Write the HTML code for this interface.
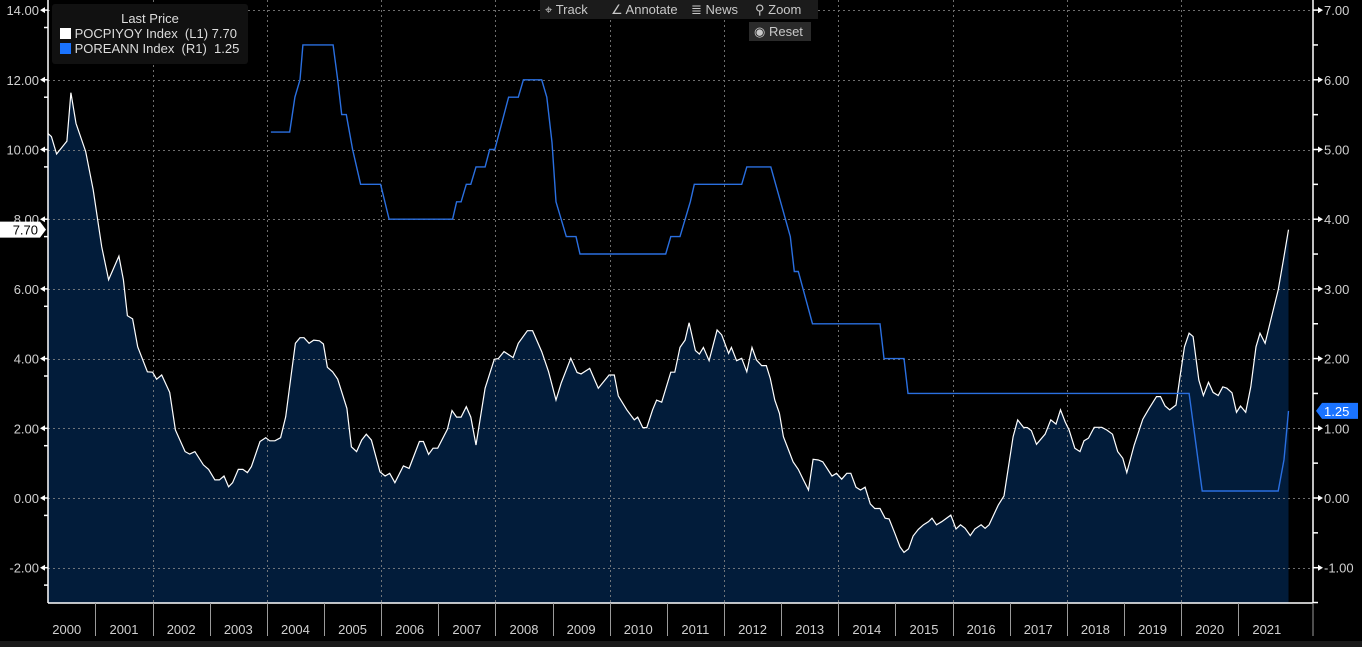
<!DOCTYPE html>
<html><head><meta charset="utf-8">
<style>
html,body{margin:0;padding:0;background:#000;}
body{width:1362px;height:647px;overflow:hidden;position:relative;font-family:"Liberation Sans",sans-serif;}
svg{position:absolute;left:0;top:0;}
.btn{position:absolute;background:#1b1b1b;color:#c8c8c8;font-size:13px;height:19px;line-height:19px;padding:0 5px;}
</style></head>
<body>
<svg id="chart" width="1362" height="647"></svg>
<div class="btn" style="left:540px;top:0;width:62px">⌖ Track</div>
<div class="btn" style="left:606px;top:0;width:76px">∠ Annotate</div>
<div class="btn" style="left:686px;top:0;width:60px">≣ News</div>
<div class="btn" style="left:750px;top:0;width:58px">⚲ Zoom</div>
<div class="btn" style="left:749px;top:22px;width:52px;background:#2a2a2a">◉ Reset</div>
<div style="position:absolute;left:52px;top:4px;width:196px;height:60px;background:#111;border-radius:3px;color:#ddd;font-size:13px">
 <div style="text-align:center;margin-top:7px">Last Price</div>
 <div style="margin-left:8px"><span style="display:inline-block;width:11px;height:11px;background:#fff;vertical-align:-1px"></span> POCPIYOY Index&nbsp; (L1) 7.70</div>
 <div style="margin-left:8px"><span style="display:inline-block;width:11px;height:11px;background:#1a73ff;vertical-align:-1px"></span> POREANN Index&nbsp; (R1)&nbsp; 1.25</div>
</div>
<script>
const cpiDates=[2000.17,2000.23,2000.32,2000.50,2000.57,2000.66,2000.83,2000.96,2001.11,2001.23,2001.41,2001.49,2001.56,2001.65,2001.74,2001.91,2002.00,2002.07,2002.16,2002.30,2002.40,2002.57,2002.65,2002.74,2002.89,2002.98,2003.09,2003.17,2003.25,2003.33,2003.40,2003.50,2003.58,2003.66,2003.73,2003.88,2003.98,2004.05,2004.14,2004.24,2004.33,2004.43,2004.50,2004.58,2004.65,2004.74,2004.82,2004.92,2004.99,2005.06,2005.15,2005.24,2005.40,2005.48,2005.57,2005.66,2005.74,2005.83,2005.98,2006.07,2006.15,2006.24,2006.39,2006.49,2006.67,2006.74,2006.83,2006.91,2006.99,2007.16,2007.24,2007.32,2007.40,2007.49,2007.57,2007.66,2007.82,2007.98,2008.05,2008.15,2008.31,2008.40,2008.56,2008.65,2008.81,2008.93,2009.06,2009.15,2009.32,2009.43,2009.50,2009.65,2009.80,2009.99,2010.08,2010.15,2010.30,2010.43,2010.49,2010.58,2010.65,2010.75,2010.82,2010.91,2011.07,2011.14,2011.23,2011.32,2011.39,2011.50,2011.57,2011.64,2011.74,2011.88,2011.96,2012.08,2012.13,2012.22,2012.31,2012.40,2012.49,2012.57,2012.66,2012.74,2012.81,2012.89,2012.97,2013.04,2013.13,2013.21,2013.30,2013.39,2013.48,2013.56,2013.65,2013.73,2013.89,2013.97,2014.06,2014.15,2014.22,2014.31,2014.39,2014.47,2014.56,2014.64,2014.73,2014.82,2014.89,2014.99,2015.08,2015.15,2015.23,2015.31,2015.40,2015.49,2015.58,2015.64,2015.72,2015.81,2015.97,2016.06,2016.14,2016.22,2016.31,2016.39,2016.50,2016.57,2016.64,2016.80,2016.90,2017.06,2017.14,2017.24,2017.31,2017.38,2017.47,2017.62,2017.72,2017.81,2017.89,2017.97,2018.04,2018.14,2018.23,2018.30,2018.38,2018.48,2018.61,2018.70,2018.80,2018.89,2018.98,2019.05,2019.18,2019.33,2019.44,2019.57,2019.64,2019.72,2019.80,2019.91,2019.98,2020.06,2020.14,2020.21,2020.31,2020.39,2020.48,2020.56,2020.65,2020.73,2020.80,2020.89,2020.97,2021.04,2021.13,2021.22,2021.31,2021.38,2021.47,2021.57,2021.70,2021.79,2021.88];
const cpiValues=[10.46,10.37,9.87,10.24,11.63,10.75,9.94,8.84,7.21,6.26,6.94,6.26,5.23,5.14,4.34,3.62,3.61,3.41,3.53,3.03,1.95,1.33,1.26,1.33,0.95,0.82,0.52,0.52,0.63,0.32,0.44,0.82,0.82,0.73,0.90,1.62,1.73,1.64,1.64,1.73,2.33,3.58,4.44,4.60,4.60,4.44,4.53,4.51,4.42,3.75,3.62,3.41,2.57,1.47,1.33,1.66,1.83,1.66,0.75,0.63,0.71,0.44,0.92,0.85,1.62,1.62,1.25,1.43,1.43,1.97,2.51,2.32,2.32,2.62,2.32,1.52,3.15,3.98,4.00,4.20,4.03,4.44,4.80,4.80,4.20,3.62,2.81,3.29,4.01,3.60,3.56,3.72,3.15,3.53,3.53,2.93,2.53,2.24,2.32,2.02,2.02,2.53,2.81,2.75,3.61,3.61,4.32,4.53,5.03,4.23,4.13,4.32,3.94,4.82,4.68,4.15,4.32,3.94,4.01,3.62,4.32,3.96,3.80,3.80,3.43,2.81,2.43,1.76,1.38,1.04,0.82,0.52,0.23,1.11,1.09,1.04,0.63,0.71,0.54,0.71,0.71,0.31,0.23,0.31,-0.17,-0.30,-0.30,-0.58,-0.60,-1.01,-1.40,-1.56,-1.46,-1.09,-0.90,-0.77,-0.68,-0.58,-0.77,-0.68,-0.49,-0.89,-0.77,-0.87,-1.08,-0.89,-0.77,-0.87,-0.77,-0.20,0.06,1.76,2.24,2.03,2.02,1.93,1.54,1.83,2.24,2.12,2.53,2.19,1.95,1.43,1.33,1.64,1.72,2.03,2.03,1.95,1.83,1.33,1.14,0.73,1.52,2.26,2.57,2.91,2.91,2.64,2.53,2.67,3.48,4.34,4.73,4.63,3.39,2.94,3.32,3.03,2.94,3.19,3.15,3.02,2.46,2.64,2.46,3.19,4.34,4.73,4.44,5.11,5.97,6.83,7.70];
const rateDates=[2004.07,2004.40,2004.49,2004.58,2004.63,2005.16,2005.24,2005.31,2005.39,2005.50,2005.64,2005.99,2006.14,2007.25,2007.32,2007.40,2007.49,2007.57,2007.66,2007.82,2007.90,2007.99,2008.07,2008.23,2008.40,2008.49,2008.81,2008.90,2008.99,2009.06,2009.24,2009.41,2009.48,2010.98,2011.07,2011.23,2011.41,2011.48,2012.31,2012.40,2012.82,2013.16,2013.23,2013.30,2013.55,2014.73,2014.80,2015.15,2015.22,2020.14,2020.37,2021.70,2021.80,2021.88];
const rateValues=[5.25,5.25,5.75,6.0,6.5,6.5,6.0,5.5,5.5,5.0,4.5,4.5,4.0,4.0,4.25,4.25,4.5,4.5,4.75,4.75,5.0,5.0,5.25,5.75,5.75,6.0,6.0,5.75,5.1,4.25,3.75,3.75,3.5,3.5,3.75,3.75,4.25,4.5,4.5,4.75,4.75,3.75,3.25,3.25,2.5,2.5,2.0,2.0,1.5,1.5,0.1,0.1,0.55,1.25];
const leftTicks=[14,12,10,8,6,4,2,0,-2];
const rightTicks=[7,6,5,4,3,2,1,0,-1];
const years=[2000,2001,2002,2003,2004,2005,2006,2007,2008,2009,2010,2011,2012,2013,2014,2015,2016,2017,2018,2019,2020,2021];

const L=48,R=1313,T=0,B=603;
const X=t=>38.3+(t-2000)*57.14;
const YL=v=>498-v*34.85;
const YR=v=>498-v*69.7;
const NS='http://www.w3.org/2000/svg';
const svg=document.getElementById('chart');
function mk(tag,attrs,parent){const e=document.createElementNS(NS,tag);for(const k in attrs)e.setAttribute(k,attrs[k]);(parent||svg).appendChild(e);return e;}

const defs=mk('defs',{});
const cp=mk('clipPath',{id:'clip'},defs);
mk('rect',{x:L,y:T,width:R-L,height:B-T},cp);

// area + line
let pts=cpiDates.map((d,i)=>X(d).toFixed(1)+','+YL(cpiValues[i]).toFixed(1));
const area=mk('polygon',{points:X(cpiDates[0])+','+B+' '+pts.join(' ')+' '+X(cpiDates[cpiDates.length-1])+','+B,fill:'#021c3a','clip-path':'url(#clip)'});



// grid
const grid=mk('g',{stroke:'#8a8a8a','stroke-width':1,'stroke-dasharray':'2,3',opacity:0.8});


leftTicks.forEach(v=>{const y=Math.round(YL(v))+0.5;mk('line',{x1:L,x2:R,y1:y,y2:y},grid);});
years.forEach(yr=>{if(yr%2===0&&yr>2000){const x=Math.round(X(yr))+0.5;mk('line',{x1:x,x2:x,y1:T,y2:B},grid);}});

const line=mk('polyline',{points:pts.join(' '),fill:'none',stroke:'#fff','stroke-width':1.2,'clip-path':'url(#clip)'});


const rpts=rateDates.map((d,i)=>X(d).toFixed(1)+','+YR(rateValues[i]).toFixed(1));
const rl=mk('polyline',{points:rpts.join(' '),fill:'none',stroke:'#2a6fe0','stroke-width':1.4});



// axes
const ax=mk('g',{stroke:'#fff','stroke-width':1.5});


mk('line',{x1:L,x2:L,y1:0,y2:B},ax);
mk('line',{x1:R,x2:R,y1:0,y2:B},ax);
mk('line',{x1:L,x2:R,y1:B,y2:B},ax);
leftTicks.forEach(v=>{const y=YL(v);
 mk('path',{d:`M${L-8},${y} L${L-3},${y-3} L${L-3},${y+3}Z`,fill:'#fff',stroke:'none'},svg);
 mk('line',{x1:L-4,x2:L,y1:y,y2:y},ax);
 mk('line',{x1:L-4,x2:L,y1:y+17.4,y2:y+17.4},ax);
 const t=mk('text',{x:L-9,y:y+5,'text-anchor':'end',fill:'#d0d0d0','font-size':13});
 t.textContent=v.toFixed(2);
 
 
});
rightTicks.forEach(v=>{const y=YR(v);
 mk('line',{x1:R,x2:R+6,y1:y,y2:y},ax);
 mk('line',{x1:R,x2:R+5,y1:y+34.85,y2:y+34.85},ax);
 mk('path',{d:`M${R+10},${y} L${R+5},${y-3} L${R+5},${y+3}Z`,fill:'#fff'});
 const t=mk('text',{x:R+11,y:y+5,fill:'#d0d0d0','font-size':13});
 t.textContent=v.toFixed(2);
 
 
});
years.forEach(yr=>{
 const x0=X(yr),x1=X(yr+1);
 if(yr>2000){const l=mk('line',{x1:Math.round(x0)+0.5,x2:Math.round(x0)+0.5,y1:B,y2:636,stroke:'#9a9a9a','stroke-width':1});}
 const t=mk('text',{x:(Math.max(x0,L)+x1)/2+(yr===2000?-5:0),y:634,'text-anchor':'middle',fill:'#d0d0d0','font-size':13});
 t.textContent=yr;
 
 
});
mk('line',{x1:R,x2:R,y1:B,y2:636,stroke:'#9a9a9a'});
mk('rect',{x:0,y:641,width:1362,height:6,fill:'#1a1a1a'});

// last value tags
const lastC=cpiValues[cpiValues.length-1],lastR=rateValues[rateValues.length-1];
const yc=YL(lastC);
const tagL=mk('path',{d:`M0,${yc-8} H40 L46,${yc} L40,${yc+8} H0Z`,fill:'#fff'});


const tl=mk('text',{x:38,y:yc+5,'text-anchor':'end',fill:'#000','font-size':13});tl.textContent=lastC.toFixed(2);
const yr2=YR(lastR);
const tagR=mk('path',{d:`M1316,${yr2} L1322,${yr2-8} H1358 V${yr2+8} H1322Z`,fill:'#1a73ff'});


const tr=mk('text',{x:1324,y:yr2+5,fill:'#fff','font-size':13});tr.textContent=lastR.toFixed(2);
</script>
</body></html>
